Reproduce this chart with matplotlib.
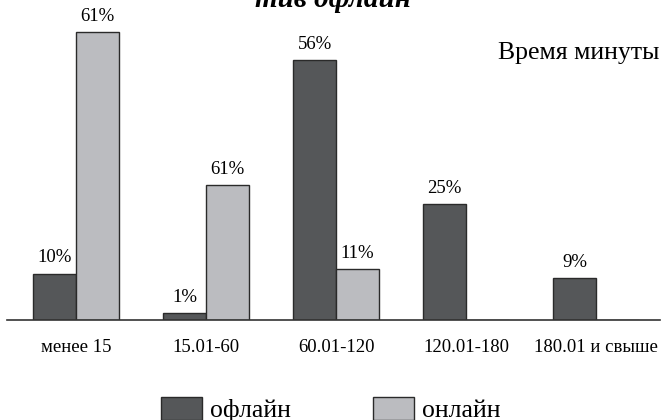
import numpy as np
import matplotlib
matplotlib.use('Agg')
import matplotlib.pyplot as plt
from matplotlib.patches import Patch

plt.rcParams['font.family'] = ['Liberation Serif', 'DejaVu Serif']

categories = ["менее 15", "15.01-60", "60.01-120", "120.01-180", "180.01 и свыше"]
offline = [10, 1.5, 56, 25, 9]
online = [62, 29, 11, 0, 0]
offline_labels = ["10%", "1%", "56%", "25%", "9%"]
online_labels = ["61%", "61%", "11%", "", ""]

c_off = "#555759"
c_on = "#bbbcc0"
edge = "#2a2a2a"

fig = plt.figure(figsize=(6.65, 4.2), dpi=100)
ax = fig.add_axes([7 / 665, 100 / 420, 653 / 665, 320 / 420])

x = np.arange(len(categories))
w = 0.33
b1 = ax.bar(x - w / 2, offline, w, color=c_off, edgecolor=edge, linewidth=1)
b2 = ax.bar(x + w / 2, online, w, color=c_on, edgecolor=edge, linewidth=1)

for rect, lab in zip(b1, offline_labels):
    ax.text(rect.get_x() + rect.get_width() / 2, rect.get_height() + 1.6, lab,
            ha='center', va='bottom', fontsize=13.5)
for rect, lab in zip(b2, online_labels):
    if lab:
        ax.text(rect.get_x() + rect.get_width() / 2, rect.get_height() + 1.6, lab,
                ha='center', va='bottom', fontsize=13.5)

ax.set_xlim(-0.53, 4.49)
ax.set_ylim(0, 320 / 4.64)
for s in ['top', 'right', 'left']:
    ax.spines[s].set_visible(False)
ax.spines['bottom'].set_linewidth(1.2)
ax.spines['bottom'].set_color("#333333")
ax.set_yticks([])
ax.set_xticks(x)
ax.set_xticklabels(categories, fontsize=13.5)
ax.tick_params(axis='x', length=0, pad=14)

ax.text(0.999, 0.835, "Время минуты", transform=ax.transAxes, ha='right', va='center',
        fontsize=18.5)

fig.text(0.5, 1.0 + 1 / 420, "тив офлайн", ha='center', va='center', fontsize=21,
         fontweight='bold', style='italic')

handles = [Patch(facecolor=c_off, edgecolor=edge, linewidth=1),
           Patch(facecolor=c_on, edgecolor=edge, linewidth=1)]
fig.legend(handles, ["офлайн", "онлайн"], loc='upper center', bbox_to_anchor=(0.497, 1 - 379 / 420),
           ncol=2, frameon=False, fontsize=18.5, handlelength=1.6, handleheight=1.0,
           columnspacing=3.2, handletextpad=0.3, borderpad=0.2)

fig.savefig("out.png", dpi=100)
plt.close()
